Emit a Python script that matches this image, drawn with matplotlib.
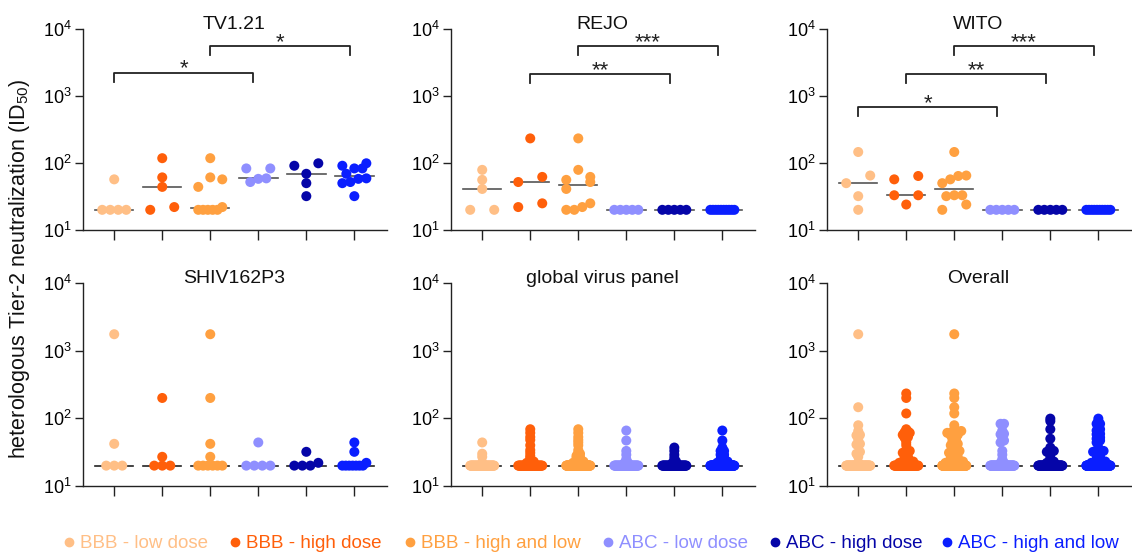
import numpy as np
import matplotlib
matplotlib.use('Agg')
import matplotlib.pyplot as plt
from matplotlib.ticker import NullLocator

plt.rcParams['font.family'] = ['Liberation Sans', 'DejaVu Sans']
plt.rcParams['mathtext.fontset'] = 'custom'
plt.rcParams['mathtext.rm'] = 'Liberation Sans'
plt.rcParams['mathtext.it'] = 'Liberation Sans:italic'
plt.rcParams['mathtext.bf'] = 'Liberation Sans:bold'

# ---------------- data ----------------
groups = ['BBB - low dose', 'BBB - high dose', 'BBB - high and low',
          'ABC - low dose', 'ABC - high dose', 'ABC - high and low']
colors = ['#FFBF86', '#FF5F0A', '#FFA040', '#8F8FFF', '#0505A8', '#0A1EFF']
panel_titles = ['TV1.21', 'REJO', 'WITO', 'SHIV162P3', 'global virus panel', 'Overall']

# ID50 per animal (BBB/ABC low and high dose; "high and low" pools both)
tv121_bbb_low = [57, 20, 20, 20, 20]
tv121_bbb_high = [118, 61, 44, 20, 22]
tv121_abc_low = [83, 83, 59, 58, 52]
tv121_abc_high = [99, 91, 69, 50, 32]

rejo_bbb_low = [79, 56, 41, 20, 20]
rejo_bbb_high = [233, 62, 52, 22, 25]
rejo_abc_low = [20, 20, 20, 20, 20]
rejo_abc_high = [20, 20, 20, 20, 20]

wito_bbb_low = [146, 50, 65, 32, 20]
wito_bbb_high = [64, 57, 33, 33, 24]
wito_abc_low = [20, 20, 20, 20, 20]
wito_abc_high = [20, 20, 20, 20, 20]

shiv_bbb_low = [1750, 42, 20, 20, 20]
shiv_bbb_high = [200, 27, 20, 20, 20]
shiv_abc_low = [44, 20, 20, 20, 20]
shiv_abc_high = [32, 22, 20, 20, 20]

# global virus panel (animal x virus values)
global_bbb_low = [44, 30, 27, 22,
                  20, 20, 20, 20, 20, 20, 20, 20, 20, 20, 20, 20, 20, 20, 20, 20,
                  20, 20, 20, 20, 20, 20, 20, 20, 20, 20, 20, 20, 20, 20, 20, 20,
                  20, 20, 20, 20, 20, 20, 20, 20, 20, 20, 20, 20, 20, 20]
global_bbb_high = [69, 61, 53, 48, 40, 34, 31, 28, 26, 23, 23, 22,
                   20, 20, 20, 20, 20, 20, 20, 20, 20, 20, 20, 20, 20, 20, 20, 20,
                   20, 20, 20, 20, 20, 20, 20, 20, 20, 20, 20, 20, 20, 20, 20, 20,
                   20, 20, 20, 20, 20, 20]
global_abc_low = [66, 47, 33, 29, 25, 22, 22,
                  20, 20, 20, 20, 20, 20, 20, 20, 20, 20, 20, 20, 20, 20, 20, 20,
                  20, 20, 20, 20, 20, 20, 20, 20, 20, 20, 20, 20, 20, 20, 20, 20,
                  20, 20, 20, 20, 20, 20, 20, 20, 20, 20, 20]
global_abc_high = [37, 33, 29, 26, 23, 22,
                   20, 20, 20, 20, 20, 20, 20, 20, 20, 20, 20, 20, 20, 20, 20, 20,
                   20, 20, 20, 20, 20, 20, 20, 20, 20, 20, 20, 20, 20, 20, 20, 20,
                   20, 20, 20, 20, 20, 20, 20, 20, 20, 20, 20, 20]

# significance annotations
sig_panel = [0, 0, 1, 1, 2, 2, 2]
sig_from = [0, 2, 1, 2, 0, 1, 2]
sig_to = [3, 5, 4, 5, 3, 4, 5]
sig_text = ['*', '*', '**', '***', '*', '**', '***']

# ---------------- build groups ----------------
def six(bl, bh, al, ah):
    return [bl, bh, bl + bh, al, ah, al + ah]

panels = [six(tv121_bbb_low, tv121_bbb_high, tv121_abc_low, tv121_abc_high),
          six(rejo_bbb_low, rejo_bbb_high, rejo_abc_low, rejo_abc_high),
          six(wito_bbb_low, wito_bbb_high, wito_abc_low, wito_abc_high),
          six(shiv_bbb_low, shiv_bbb_high, shiv_abc_low, shiv_abc_high),
          six(global_bbb_low, global_bbb_high, global_abc_low, global_abc_high)]
panels.append([sum((panels[k][g] for k in range(5)), []) for g in range(6)])

# ---------------- layout ----------------
W, H = 1132, 555
col_left = [83, 451, 827]
ax_w = 304
row_top = [29, 283]
row_bot = [230, 486]
XL = (-0.65, 5.68)
ppu = ax_w / (XL[1] - XL[0])
sig_level = [3.35, 3.75, 3.33, 3.75, 2.84, 3.33, 3.75]


def swarm(vals):
    v = np.asarray(vals, float)
    big = len(v) > 12
    bin_dec = 0.03 if big else 0.12
    lv = np.log10(v)
    order = np.argsort(lv, kind='stable')
    rows, cur, start = [], [], None
    for i in order:
        if start is None or lv[i] - start > bin_dec:
            if cur:
                rows.append(cur)
            cur, start = [i], lv[i]
        else:
            cur.append(i)
    if cur:
        rows.append(cur)
    off = np.zeros(len(v))
    for ri, r in enumerate(rows):
        n = len(r)
        if n < 2:
            continue
        if big:
            step = 24.0 / (n - 1) if ri == 0 else min(3.5, 24.0 / (n - 1))
        elif n == 2:
            step = 24.0
        else:
            step = min(8.0, 24.0 / (n - 1))
        for k, i in enumerate(r):
            off[i] = (k - (n - 1) / 2) * step / ppu
    return off


fig = plt.figure(figsize=(W / 100, H / 100), dpi=100)
axes = []
for p in range(6):
    r, c = divmod(p, 3)
    ax = fig.add_axes([col_left[c] / W, 1 - row_bot[r] / H, ax_w / W,
                       (row_bot[r] - row_top[r]) / H])
    axes.append(ax)
    ax.set_yscale('log')
    ax.set_ylim(10, 1e4)
    ax.set_xlim(*XL)
    ax.set_yticks([10, 100, 1000, 10000])
    ax.yaxis.set_minor_locator(NullLocator())
    ax.set_xticks(range(6))
    ax.set_xticklabels([])
    for s in ['top', 'right']:
        ax.spines[s].set_visible(False)
    for s in ['left', 'bottom']:
        ax.spines[s].set_linewidth(1.0)
        ax.spines[s].set_color('#222222')
    ax.tick_params(axis='y', length=6, width=1.0, pad=2, labelsize=13, color='#222222')
    ax.tick_params(axis='x', length=7, width=1.0, color='#222222')
    ax.set_facecolor('none')

    line_col = '#555555' if r == 0 else '#222222'
    for g in range(6):
        vals = panels[p][g]
        xo = swarm(vals)
        med = np.median(vals)
        ax.plot([g - 0.4, g + 0.4], [med, med], color=line_col, lw=1.2, zorder=2)
        ax.scatter(g + xo, vals, s=52, color=colors[g], edgecolors='none',
                   zorder=3, clip_on=False)

    ax.text(2.5, 1.0, panel_titles[p], transform=ax.get_xaxis_transform(),
            ha='center', va='baseline', fontsize=14, color='#111111')

# significance brackets
for k in range(len(sig_panel)):
    ax = axes[sig_panel[k]]
    x1, x2 = sig_from[k], sig_to[k] - 0.1
    yt = 10 ** sig_level[k]
    yb = 10 ** (sig_level[k] - 0.134)
    ax.plot([x1, x1, x2, x2], [yb, yt, yt, yb], color='#222222', lw=1.3, zorder=4)
    ax.annotate(sig_text[k], xy=((x1 + x2) / 2, yt), xytext=(0, -1.5),
                textcoords='offset points', ha='center', va='baseline',
                fontsize=16, color='#222222')

fig.text(20 / W, 1 - 269 / H, 'heterologous Tier-2 neutralization (ID$_{50}$)',
         rotation=90, ha='center', va='center', fontsize=15.5, color='#111111')

# legend
leg_x = [69, 235, 410, 608, 775, 947]
for g in range(6):
    fig.add_artist(plt.Line2D([leg_x[g] / W], [1 - 541.7 / H], marker='o',
                              markersize=6, color=colors[g], linestyle='none',
                              transform=fig.transFigure))
    fig.text((leg_x[g] + 11) / W, 1 - 548.5 / H, groups[g], color=colors[g],
             ha='left', va='baseline', fontsize=13.5)

fig.savefig('out.png', dpi=100)
